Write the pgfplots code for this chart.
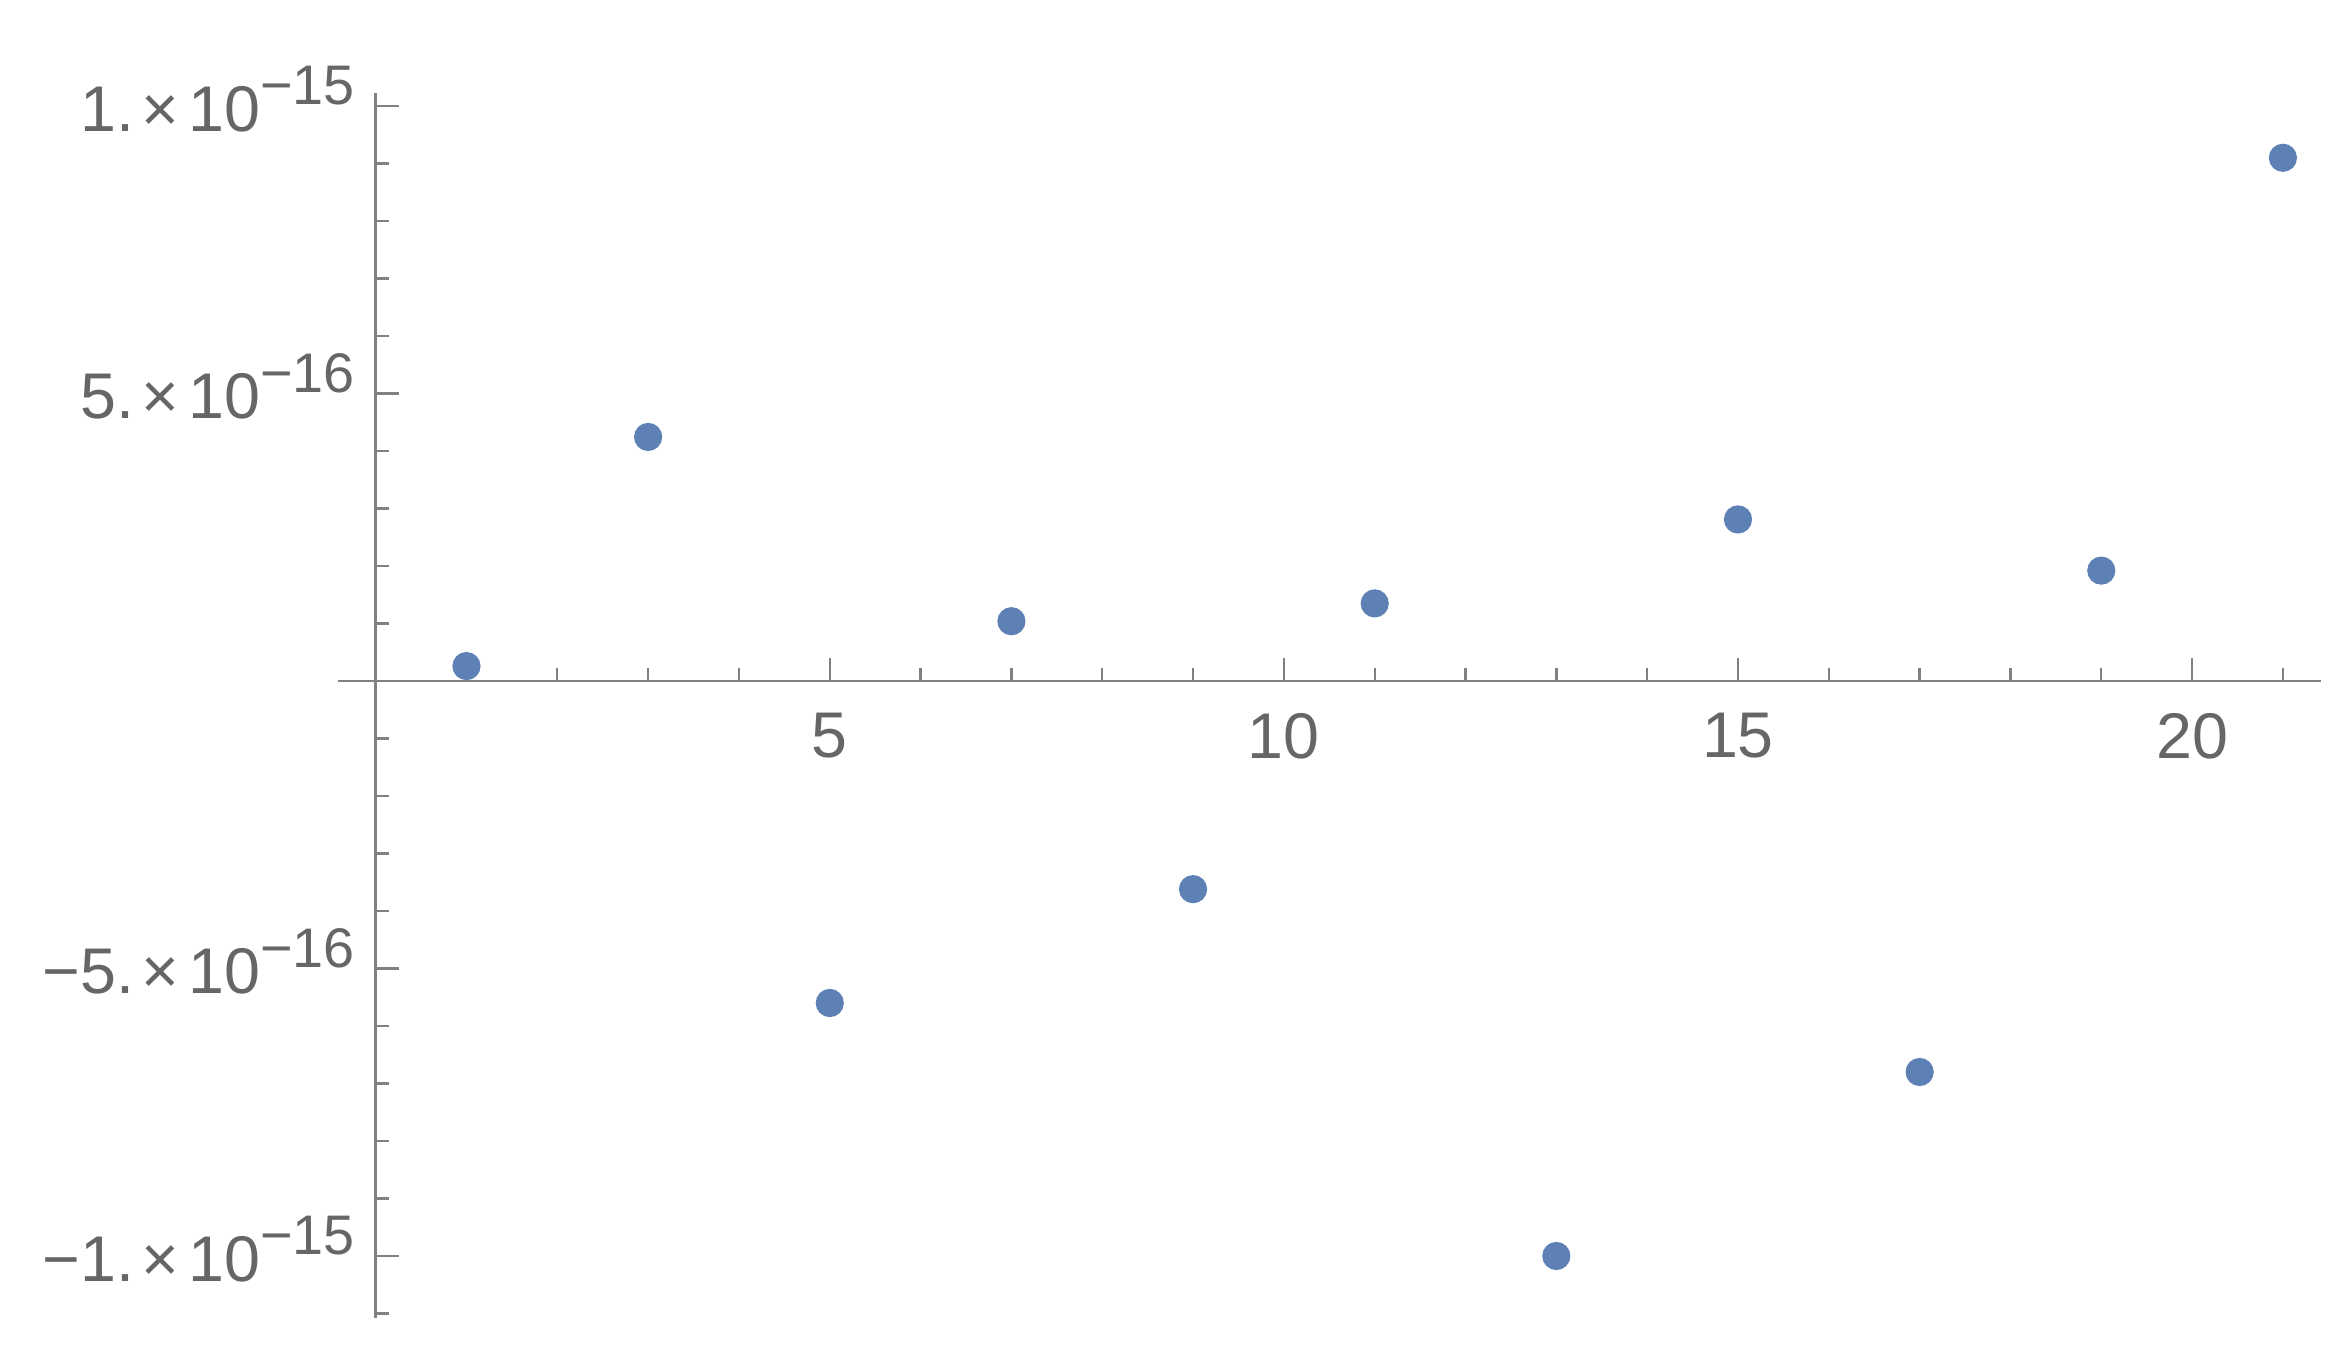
\documentclass[border=0pt]{standalone}
\usepackage{pgfplots}
\pgfplotsset{compat=1.18}
\usepackage{fontspec}
\setmainfont{Liberation Sans}
\definecolor{mblue}{RGB}{94,129,181}
\definecolor{axgray}{RGB}{128,128,128}
\definecolor{txtgray}{RGB}{102,102,102}
\newcommand{\sci}[2]{#1.\hspace{1.3pt}×\hspace{1.5pt}10\raisebox{4.5pt}{\fontsize{9.5}{10}\selectfont −#2}}
\begin{document}
\begin{tikzpicture}
\begin{axis}[
  scale only axis, width=337.7pt, height=208.6pt,
  axis lines=middle,
  xmin=-0.41, xmax=21.42, ymin=-1.107e-15, ymax=1.023e-15,
  xtick={5,10,15,20}, xticklabels={5,10,15,20},
  minor xtick={1,2,3,4,6,7,8,9,11,12,13,14,16,17,18,19,21},
  ytick={-1e-15,-5e-16,5e-16,1e-15},
  yticklabels={\sci{−1}{15},\sci{−5}{16},\sci{5}{16},\sci{1}{15}},
  minor ytick={-1.1e-15,-9e-16,-8e-16,-7e-16,-6e-16,-4e-16,-3e-16,-2e-16,-1e-16,1e-16,2e-16,3e-16,4e-16,6e-16,7e-16,8e-16,9e-16},
  scaled y ticks=false,
  tick align=inside,
  major tick length=4pt, minor tick length=2.3pt,
  axis line style={axgray, line width=0.4pt, -},
  every tick/.style={axgray, line width=0.4pt},
  tick label style={txtgray, font=\fontsize{11}{13}\selectfont},
  xticklabel style={yshift=-2pt},
  yticklabel style={anchor=base east, yshift=-4.3pt},
  clip=false,
]
\path (rel axis cs:-0.1707,-0.0379) rectangle (rel axis cs:1.0136,1.0758);
\addplot[only marks, mark=*, mark size=2.2pt, color=mblue, mark options={draw=none, fill=mblue}] coordinates {
(1,0.026e-15)
(3,0.4245e-15)
(5,-0.56e-15)
(7,0.104e-15)
(9,-0.362e-15)
(11,0.135e-15)
(13,-1.0e-15)
(15,0.281e-15)
(17,-0.68e-15)
(19,0.192e-15)
(21,0.910e-15)
};
\end{axis}
\end{tikzpicture}
\end{document}
